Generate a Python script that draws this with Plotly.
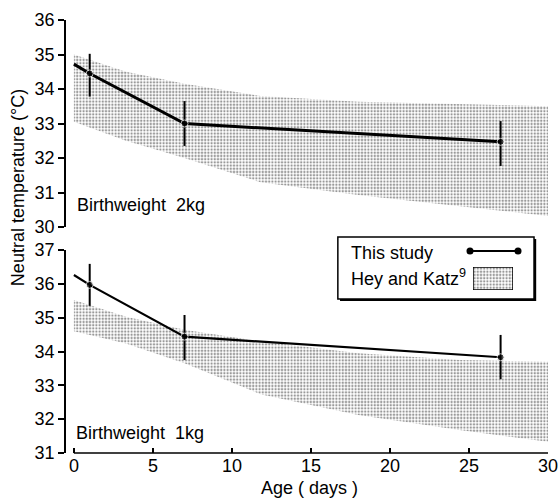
import plotly.graph_objects as go

# ---------------- data ----------------
days = [0, 1, 7, 27]
temp_2kg = [34.72, 34.45, 33.0, 32.47]
err_up_2kg = [0, 0.57, 0.65, 0.6]
err_dn_2kg = [0, 0.67, 0.65, 0.7]

temp_1kg = [36.26, 35.97, 34.44, 33.83]
err_up_1kg = [0, 0.62, 0.64, 0.66]
err_dn_1kg = [0, 0.62, 0.69, 0.65]

band_days = [0, 3.3, 7, 11.8, 18, 24.4, 30]
hk_2kg_upper = [35.0, 34.5, 34.15, 33.8, 33.63, 33.55, 33.5]
hk_2kg_lower = [33.05, 32.5, 32.0, 31.3, 30.93, 30.6, 30.32]
hk_1kg_upper = [35.52, 35.03, 34.64, 34.3, 33.95, 33.75, 33.7]
hk_1kg_lower = [34.6, 34.24, 33.65, 32.74, 32.12, 31.68, 31.33]

x_ticks = [0, 5, 10, 15, 20, 25, 30]
labels = {"top": "Birthweight  2kg", "bottom": "Birthweight  1kg"}

FONT = "Liberation Sans"
pattern = dict(shape=".", size=3.2, solidity=0.42, fgcolor="#333333", bgcolor="white")

fig = go.Figure()


def add_panel(xa, ya, upper, lower, temps, eu, ed, lw):
    fig.add_trace(go.Scatter(x=band_days, y=lower, mode="lines", line=dict(width=0),
                             xaxis=xa, yaxis=ya, showlegend=False, hoverinfo="skip"))
    fig.add_trace(go.Scatter(x=band_days, y=upper, mode="lines", line=dict(width=0),
                             fill="tonexty", fillcolor="rgba(0,0,0,0)", fillpattern=pattern,
                             xaxis=xa, yaxis=ya, showlegend=False, hoverinfo="skip"))
    fig.add_trace(go.Scatter(x=days, y=temps, mode="lines+markers",
                             line=dict(color="black", width=lw),
                             marker=dict(color="black", size=[0, 7, 7, 7]),
                             error_y=dict(type="data", symmetric=False, array=eu, arrayminus=ed,
                                          color="black", thickness=2, width=0),
                             xaxis=xa, yaxis=ya, showlegend=False))


add_panel("x", "y", hk_2kg_upper, hk_2kg_lower, temp_2kg, err_up_2kg, err_dn_2kg, 3)
add_panel("x2", "y2", hk_1kg_upper, hk_1kg_lower, temp_1kg, err_up_1kg, err_dn_1kg, 2.2)

# legend swatch (stippled rectangle) on its own small axis
fig.add_trace(go.Scatter(x=[0, 1, 1, 0, 0], y=[0, 0, 1, 1, 0], mode="lines", fill="toself",
                         fillcolor="rgba(0,0,0,0)", fillpattern=pattern,
                         line=dict(color="black", width=1.5),
                         xaxis="x3", yaxis="y3", showlegend=False, hoverinfo="skip"))

yax = dict(showline=True, linecolor="black", linewidth=1.5, ticks="outside", ticklen=6,
           tickwidth=1.5, tickcolor="black", dtick=1, showgrid=False, zeroline=False,
           automargin=False, tickfont=dict(family=FONT, size=18, color="black"))

fig.update_layout(
    width=560, height=500,
    margin=dict(l=66, r=12, t=20, b=47, autoexpand=False),
    paper_bgcolor="white", plot_bgcolor="white",
    font=dict(family=FONT, size=18, color="black"),
    showlegend=False,
    xaxis=dict(domain=[0, 1], anchor="y", range=[-0.5, 30], visible=False, automargin=False),
    yaxis=dict(domain=[0.5219, 1], anchor="x", range=[30, 36], **yax),
    xaxis2=dict(domain=[0, 1], anchor="y2", range=[-0.5, 30], showline=False, ticks="inside",
                ticklen=5, tickwidth=1.5, tickcolor="black", tickvals=x_ticks,
                showgrid=False, zeroline=False, automargin=False,
                tickfont=dict(family=FONT, size=18, color="black")),
    yaxis2=dict(domain=[0, 0.4688], anchor="x2", range=[31, 37], **yax),
    xaxis3=dict(domain=[0.8444, 0.9274], anchor="y3", range=[0, 1], visible=False, automargin=False),
    yaxis3=dict(domain=[0.3764, 0.4296], anchor="x3", range=[0, 1], visible=False, automargin=False),
)

# x-axis line from day 0 to day 30
fig.add_shape(type="line", xref="x2", yref="y2 domain", x0=0, x1=30, y0=0, y1=0,
              line=dict(color="black", width=1.5))

# legend box with shadow
fig.add_shape(type="rect", xref="paper", yref="paper", x0=0.5685, x1=0.9755, y0=0.351, y1=0.494,
              fillcolor="black", line=dict(width=0), layer="below")
fig.add_shape(type="rect", xref="paper", yref="paper", x0=0.564, x1=0.971, y0=0.3557, y1=0.4988,
              fillcolor="white", line=dict(color="black", width=1.5), layer="below")
# legend line sample
fig.add_shape(type="line", xref="paper", yref="paper", x0=0.8382, x1=0.9378, y0=0.4665, y1=0.4665,
              line=dict(color="black", width=2))
for cx in (0.8382, 0.9378):
    fig.add_shape(type="circle", xref="paper", yref="paper", x0=cx - 0.0073, x1=cx + 0.0073,
                  y0=0.4665 - 0.0081, y1=0.4665 + 0.0081, fillcolor="black", line=dict(width=0))

ann = dict(showarrow=False, font=dict(family=FONT, size=18, color="black"))
fig.add_annotation(text="This study", xref="paper", yref="paper", x=0.587, y=0.462,
                   xanchor="left", yanchor="middle", **ann)
fig.add_annotation(text="Hey and Katz<sup>9</sup>", xref="paper", yref="paper", x=0.587, y=0.405,
                   xanchor="left", yanchor="middle", **ann)
fig.add_annotation(text=labels["top"], xref="x", yref="y", x=0.05, y=30.64,
                   xanchor="left", yanchor="middle", **ann)
fig.add_annotation(text=labels["bottom"], xref="x2", yref="y2", x=0.0, y=31.6,
                   xanchor="left", yanchor="middle", **ann)
fig.add_annotation(text="Neutral temperature (°C)", xref="paper", yref="paper", x=-0.0996, y=0.614,
                   textangle=-90, xanchor="center", yanchor="middle", **ann)
fig.add_annotation(text="Age ( days )", xref="paper", yref="paper", x=0.506, y=-0.081,
                   xanchor="center", yanchor="middle", **ann)

fig.write_html("out.html",
               config={"displayModeBar": False},
               post_script="document.body.style.margin='0';"
                           "document.documentElement.style.overflow='hidden';")
